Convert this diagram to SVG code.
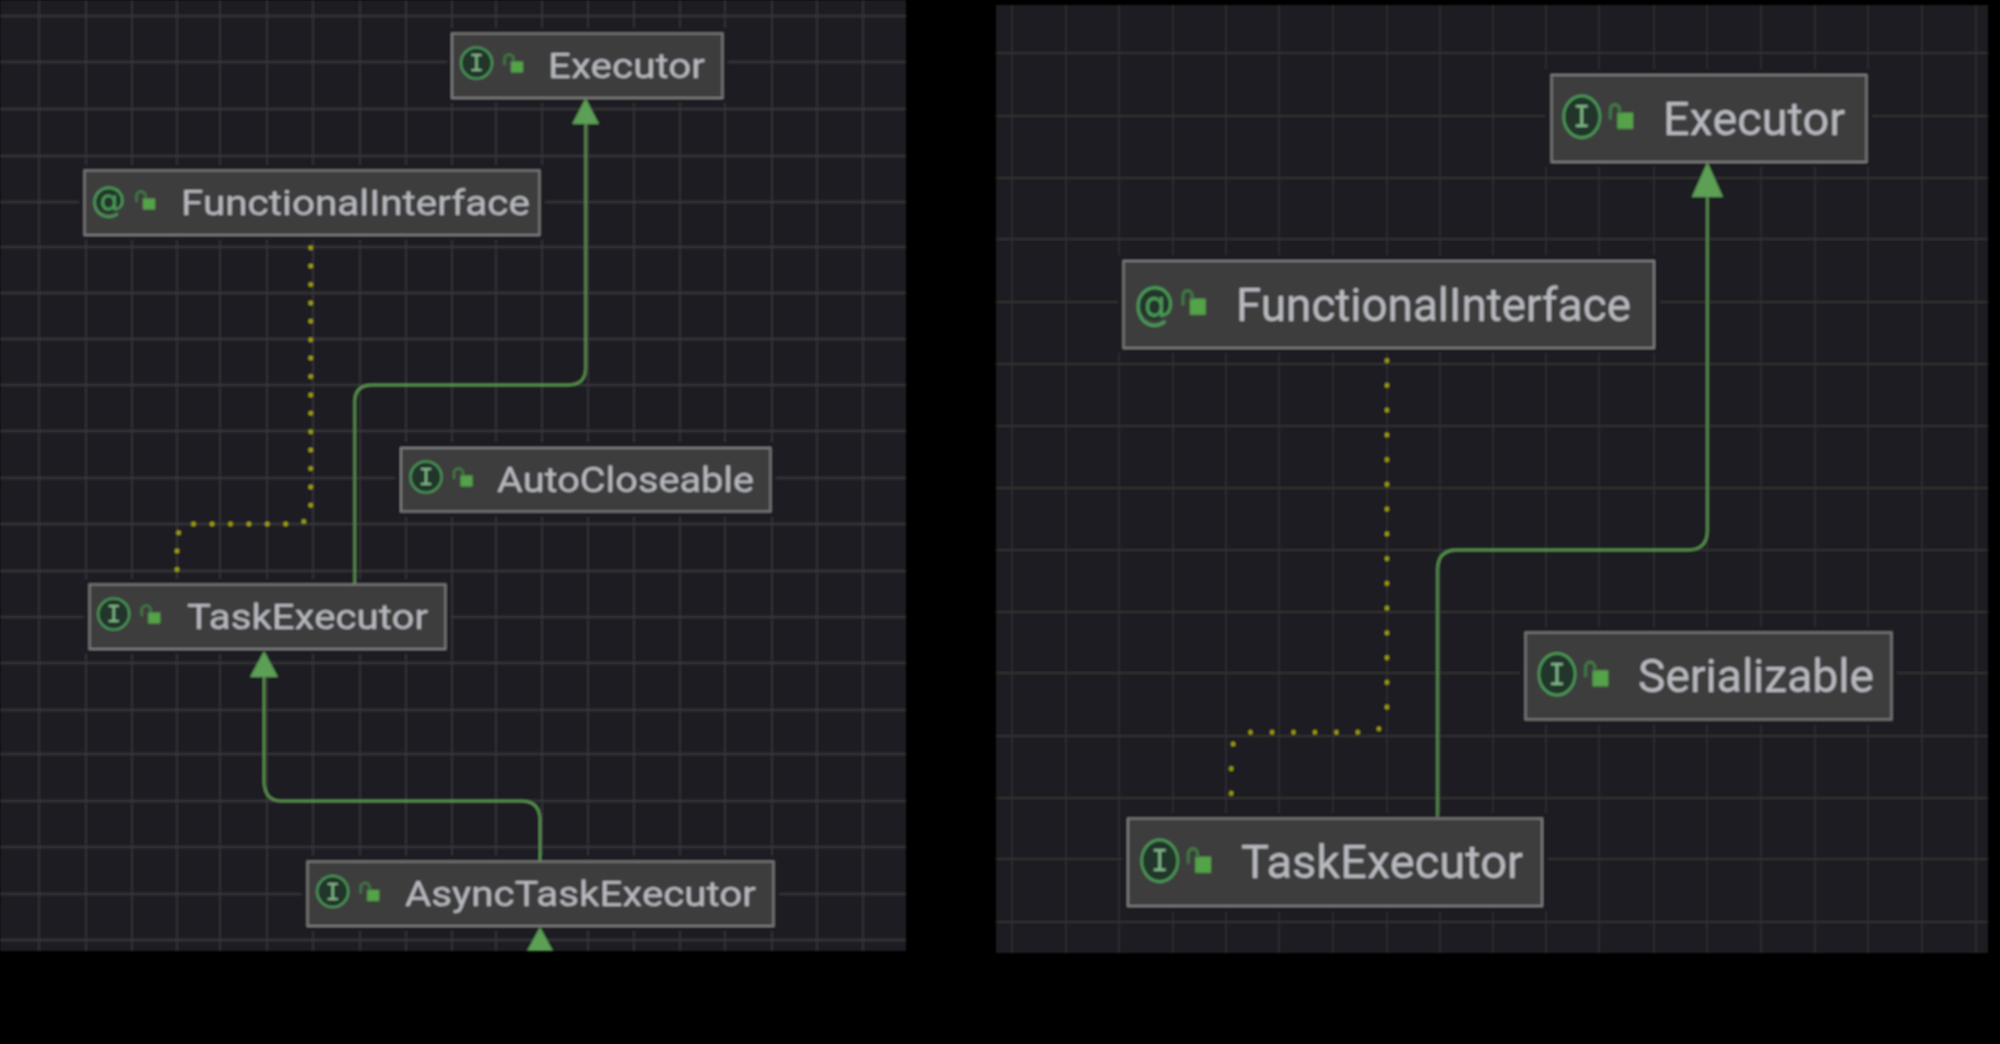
<svg xmlns="http://www.w3.org/2000/svg" width="2000" height="1044" viewBox="0 0 2000 1044">
<style>
.bg{fill:#1e1f22}
.g1{stroke:#38393a;stroke-width:1.8;fill:none}
.g2{stroke:#303133;stroke-width:1.8;fill:none}
.halo{fill:#1e1f22}
.box{fill:#3e3e3e;stroke:#7f7f7f;stroke-width:2}
.lbl{font-family:Roboto,"Liberation Sans",sans-serif;fill:#b8bac0}
.l{font-size:35px}
.r{font-size:47px}
.edge{fill:none;stroke:#5b9650;stroke-width:2.3}
.head{fill:#5c9f55}
.dots{fill:none;stroke:#a6a600;stroke-width:4.500;stroke-linecap:round;stroke-dasharray:0 18.4}
.ring{fill:#20352a;stroke:#4c9a58;stroke-width:2.1}
.ig{font-family:"Liberation Mono",monospace;font-size:25px;fill:#7fb887;text-anchor:middle}
.at{font-family:"DejaVu Sans",sans-serif;font-size:35px;fill:#4c9a58;text-anchor:middle}
.lk{fill:#54a348}
.sh{fill:none;stroke:#3f7a43;stroke-width:2.4}
</style>
<defs>
<filter id="soft" x="-2%" y="-2%" width="104%" height="104%"><feGaussianBlur stdDeviation="0.9"/></filter>
<g id="lockL"><rect class="lk" x="34.500" y="-1.500" width="12" height="11"/><path class="sh" d="M28 2V-4a4.500 4.500 0 0 1 9 0V-1"/></g>
<g id="lockR"><rect class="lk" x="30.500" y="-3" width="13.500" height="12"/><path class="sh" d="M24.500 2V-5a4 4 0 0 1 8 0V-2"/></g>
<g id="ringI"><circle class="ring" r="15.500"/><text class="ig" y="8">I</text></g>
<g id="ringAt"><circle r="13" fill="#20352a"/><text class="at" y="12">@</text></g>
</defs>
<rect width="2000" height="1044" fill="#000"/>
<g filter="url(#soft)">
<rect class="bg" x="0" y="0" width="906" height="951"/>
<rect class="bg" x="996" y="5" width="992" height="948"/>
<path class="g1" d="M39 0V951M86 0V951M132 0V951M177 0V951M220 0V951M267 0V951M313 0V951M360 0V951M406 0V951M452 0V951M496 0V951M542 0V951M588 0V951M634 0V951M680 0V951M725 0V951M772 0V951M817 0V951M863 0V951M0 16H906M0 62H906M0 109H906M0 156H906M0 202H906M0 247H906M0 293H906M0 339H906M0 385H906M0 431H906M0 478H906M0 524H906M0 571H906M0 617H906M0 663H906M0 710H906M0 754H906M0 801H906M0 847H906M0 894H906M0 940H906"/>
<path class="g2" d="M1012 5V953M1066 5V953M1119 5V953M1173 5V953M1226 5V953M1279 5V953M1333 5V953M1387 5V953M1440 5V953M1493 5V953M1546 5V953M1599 5V953M1654 5V953M1707 5V953M1761 5V953M1815 5V953M1868 5V953M1922 5V953M1976 5V953M996 53H1988M996 116H1988M996 178H1988M996 239H1988M996 302H1988M996 364H1988M996 426H1988M996 488H1988M996 550H1988M996 612H1988M996 673H1988M996 736H1988M996 798H1988M996 859H1988M996 922H1988"/>

<g id="l-executor">
<rect class="halo" x="447" y="28" width="281" height="75"/>
<rect class="box" x="452" y="33.500" width="270.500" height="64.500"/>
<g transform="translate(476.500 63)"><use href="#ringI"/><use href="#lockL"/></g>
<text class="lbl l" x="548" y="78" textLength="157" lengthAdjust="spacingAndGlyphs">Executor</text>
</g>
<g id="l-functional">
<rect class="halo" x="79" y="165" width="466" height="75"/>
<rect class="box" x="84.500" y="170.500" width="455" height="64.500"/>
<g transform="translate(108.500 200)"><use href="#ringAt"/><use href="#lockL"/></g>
<text class="lbl l" x="181" y="215" textLength="349" lengthAdjust="spacingAndGlyphs">FunctionalInterface</text>
</g>
<g id="l-autocloseable">
<rect class="halo" x="395" y="442" width="381" height="75"/>
<rect class="box" x="401" y="448" width="369.500" height="63.500"/>
<g transform="translate(426 477)"><use href="#ringI"/><use href="#lockL"/></g>
<text class="lbl l" x="497" y="492" textLength="257" lengthAdjust="spacingAndGlyphs">AutoCloseable</text>
</g>
<g id="l-taskexecutor">
<rect class="halo" x="84" y="579" width="367" height="75"/>
<rect class="box" x="89.500" y="584.500" width="356" height="64.500"/>
<g transform="translate(113.700 614)"><use href="#ringI"/><use href="#lockL"/></g>
<text class="lbl l" x="187" y="629" textLength="241" lengthAdjust="spacingAndGlyphs">TaskExecutor</text>
</g>
<g id="l-asynctaskexecutor">
<rect class="halo" x="302" y="856" width="477" height="75"/>
<rect class="box" x="307.500" y="861.500" width="466" height="64.500"/>
<g transform="translate(332.700 891.500)"><use href="#ringI"/><use href="#lockL"/></g>
<text class="lbl l" x="405" y="906" textLength="351" lengthAdjust="spacingAndGlyphs">AsyncTaskExecutor</text>
</g>

<g id="r-executor">
<rect class="halo" x="1545" y="69" width="327" height="98"/>
<rect class="box" x="1551.500" y="75" width="315" height="87"/>
<g transform="translate(1581.800 116.700) scale(1.165 1.345)"><use href="#ringI"/><use href="#lockR"/></g>
<text class="lbl r" x="1663" y="135" textLength="182" lengthAdjust="spacingAndGlyphs">Executor</text>
</g>
<g id="r-functional">
<rect class="halo" x="1118" y="255" width="542" height="98"/>
<rect class="box" x="1123.500" y="261" width="530.500" height="87"/>
<g transform="translate(1154.400 302.700) scale(1.165 1.345)"><use href="#ringAt"/><use href="#lockR"/></g>
<text class="lbl r" x="1236" y="321" textLength="395" lengthAdjust="spacingAndGlyphs">FunctionalInterface</text>
</g>
<g id="r-serializable">
<rect class="halo" x="1520" y="627" width="377" height="98"/>
<rect class="box" x="1525.500" y="632.500" width="366" height="87"/>
<g transform="translate(1557 674.300) scale(1.165 1.345)"><use href="#ringI"/><use href="#lockR"/></g>
<text class="lbl r" x="1638" y="692" textLength="236" lengthAdjust="spacingAndGlyphs">Serializable</text>
</g>
<g id="r-taskexecutor">
<rect class="halo" x="1122" y="813" width="426" height="99"/>
<rect class="box" x="1128" y="818.500" width="414" height="87.500"/>
<g transform="translate(1159.700 860.700) scale(1.165 1.345)"><use href="#ringI"/><use href="#lockR"/></g>
<text class="lbl r" x="1241" y="878" textLength="282" lengthAdjust="spacingAndGlyphs">TaskExecutor</text>
</g>

<g id="connectors">
<path class="edge" d="M354.700 584V402Q354.700 385 372 385H568Q585.600 385 585.600 368V122"/>
<polygon class="head" points="585.600,98 572.200,124 599,124"/>
<path class="edge" d="M540 861V820Q540 801 521 801H281Q264 801 264 780V676"/>
<polygon class="head" points="264,651 250,677 278,677"/>
<polygon class="head" points="540,927 527,951 553,951"/>
<path class="dots" d="M310.700 247.700V506Q310.700 524 293 524H195Q177 524 177 542V575"/>
<path class="edge" d="M1437.500 817V570Q1437.500 550 1457 550H1688Q1707.400 550 1707.400 530V195"/>
<polygon class="head" points="1707.400,162 1691.800,197 1723,197"/>
<path class="dots" transform="translate(1025 27.500) scale(1.165 1.345)" style="stroke-width:3.500" d="M310.700 247.700V506Q310.700 524 293 524H195Q177 524 177 542V575"/>
</g>
</g>
</svg>
